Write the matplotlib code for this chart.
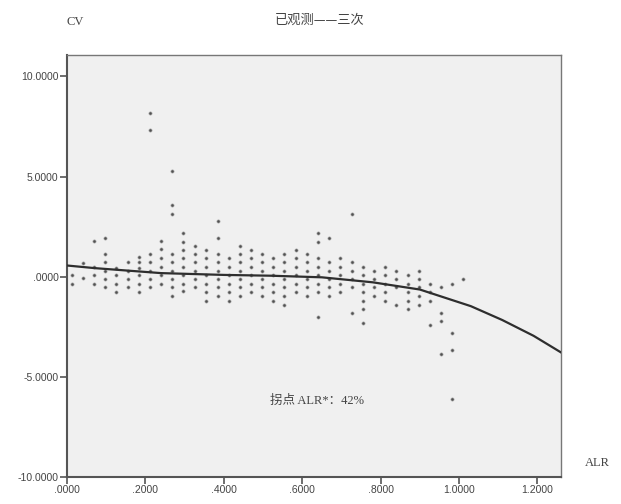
import matplotlib
matplotlib.use("Agg")
import matplotlib.pyplot as plt
from matplotlib.ticker import FixedLocator

# ---- data ----
alr_columns = [0.0128, 0.0409, 0.0697, 0.0978, 0.1259, 0.1550, 0.1839, 0.2120,
               0.2409, 0.2682, 0.2971, 0.3269, 0.3550, 0.3839, 0.4120, 0.4401,
               0.4692, 0.4973, 0.5262, 0.5535, 0.5831, 0.6112, 0.6411, 0.6692,
               0.6966, 0.7262, 0.7553, 0.7834, 0.8105, 0.8404, 0.8685, 0.8973,
               0.9254, 0.9535, 0.9826, 1.0107]

cv_columns = [
    [0.10, -0.35],
    [0.68, -0.06],
    [1.78, 0.51, 0.10, -0.35],
    [1.95, 1.12, 0.71, 0.30, -0.11, -0.53],
    [0.46, 0.10, -0.35, -0.78],
    [0.71, 0.30, -0.11, -0.53],
    [0.96, 0.71, 0.46, 0.10, -0.35, -0.78],
    [8.17, 7.31, 1.12, 0.71, 0.30, -0.11, -0.53],
    [1.78, 1.37, 0.93, 0.51, 0.10, -0.35],
    [5.26, 3.60, 3.15, 1.12, 0.71, 0.30, -0.11, -0.53, -0.94],
    [2.16, 1.75, 1.34, 0.93, 0.51, 0.10, -0.35, -0.73],
    [1.53, 1.12, 0.71, 0.30, -0.11, -0.53],
    [1.34, 0.93, 0.51, 0.10, -0.35, -0.78, -1.19],
    [2.77, 1.92, 1.12, 0.71, 0.30, -0.11, -0.53, -0.94],
    [0.93, 0.51, 0.10, -0.35, -0.78, -1.19],
    [1.53, 1.12, 0.71, 0.30, -0.11, -0.53, -0.94],
    [1.34, 0.93, 0.51, 0.10, -0.35, -0.78],
    [1.12, 0.71, 0.30, -0.11, -0.53, -0.94],
    [0.93, 0.51, 0.10, -0.35, -0.78, -1.19],
    [1.12, 0.71, 0.30, -0.11, -0.53, -0.94, -1.39],
    [1.34, 0.93, 0.51, 0.10, -0.35, -0.78],
    [1.12, 0.71, 0.30, -0.11, -0.53, -0.94],
    [2.16, 1.75, 0.93, 0.51, 0.10, -0.35, -0.78, -2.01],
    [1.95, 0.71, 0.30, -0.11, -0.53, -0.94],
    [0.93, 0.51, 0.10, -0.35, -0.78],
    [3.15, 0.71, 0.30, -0.11, -0.53, -1.80],
    [0.51, 0.10, -0.35, -0.78, -1.19, -1.60, -2.29],
    [0.30, -0.11, -0.53, -0.94],
    [0.51, 0.10, -0.35, -0.78, -1.19],
    [0.30, -0.11, -0.53, -1.39],
    [0.10, -0.35, -0.78, -1.19, -1.60],
    [0.30, -0.11, -0.53, -0.94, -1.39],
    [-0.35, -0.78, -1.19, -2.39],
    [-0.53, -1.80, -2.21, -3.86],
    [-0.35, -2.82, -3.66, -6.09],
    [-0.10],
]

# cubic fit line
curve_alr = [0.0, 0.07, 0.24, 0.40, 0.52, 0.65, 0.78, 0.90, 1.03, 1.11, 1.19, 1.26]
curve_cv = [0.56, 0.43, 0.18, 0.09, 0.05, -0.03, -0.28, -0.64, -1.47, -2.16, -2.95, -3.78]

x_ticks = [0.0, 0.2, 0.4, 0.6, 0.8, 1.0, 1.2]
x_tick_labels = [".0000", ".2000", ".4000", ".6000", ".8000", "1.0000", "1.2000"]
y_ticks = [-10, -5, 0, 5, 10]
y_tick_labels = ["-10.0000", "-5.0000", ".0000", "5.0000", "10.0000"]

title_text = "已观测——三次"
y_label = "CV"
x_label = "ALR"
note_text = "拐点 ALR*：42%"

# ---- figure ----
W, H = 621, 504
fig = plt.figure(figsize=(W / 100, H / 100), dpi=100)
fig.patch.set_facecolor("white")

left, right, top, bottom = 67, 561, 55, 477
ax = fig.add_axes([left / W, 1 - bottom / H, (right - left) / W, (bottom - top) / H])
ax.set_facecolor("#f0f0f0")

xs, ys = [], []
for xv, col in zip(alr_columns, cv_columns):
    for v in col:
        xs.append(xv)
        ys.append(v)
ax.scatter(xs, ys, s=5, marker="o", color="#505050", edgecolors="#999999",
           linewidths=0.5, zorder=3)
ax.plot(curve_alr, curve_cv, color="#2e2e2e", lw=1.6, zorder=4)

ax.set_xlim(0, 1.26)
ax.set_ylim(-10.0, 11.07)

ax.xaxis.set_major_locator(FixedLocator(x_ticks))
ax.set_xticklabels(x_tick_labels)
ax.yaxis.set_major_locator(FixedLocator(y_ticks))
ax.set_yticklabels(y_tick_labels)
ax.tick_params(axis="both", direction="out", length=5, width=1.2, color="#555555",
               labelsize=7.5, labelcolor="#444444", pad=1)
for lab in ax.get_xticklabels() + ax.get_yticklabels():
    lab.set_family("Liberation Sans")

for s in ["left", "bottom"]:
    ax.spines[s].set_color("#555555")
    ax.spines[s].set_linewidth(1.5)
for s in ["top", "right"]:
    ax.spines[s].set_color("#777777")
    ax.spines[s].set_linewidth(1.0)

serif_cjk = ["Liberation Serif", "Noto Sans CJK SC"]
fig.text(320 / W, 1 - 20 / H, title_text, ha="center", va="center", fontsize=9.5,
         color="#444444", family=["Noto Sans CJK SC"], fontweight="light")
fig.text(75 / W, 1 - 22 / H, y_label, ha="center", va="center", fontsize=9,
         color="#444444", family=serif_cjk)
fig.text(597 / W, 1 - 463 / H, x_label, ha="center", va="center", fontsize=9,
         color="#444444", family=serif_cjk)
ax.text(0.518, -6.2, note_text, ha="left", va="center", fontsize=9,
        color="#444444", family=serif_cjk)

fig.savefig("out.png", dpi=100)
